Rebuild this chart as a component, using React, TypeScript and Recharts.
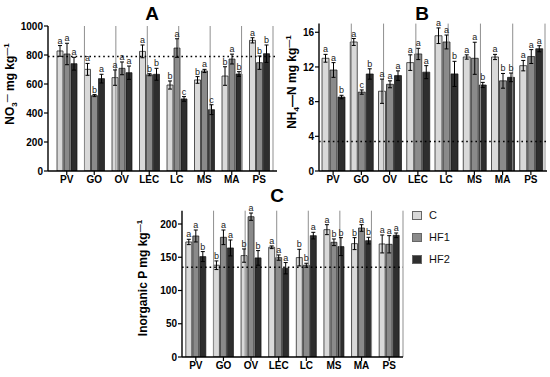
import { Bar, BarChart, ErrorBar, LabelList, ReferenceLine, XAxis, YAxis } from "recharts";

const categories = ["PV", "GO", "OV", "LEC", "LC", "MS", "MA", "PS"];
const treatments = ["C", "HF1", "HF2"];
const fills = ["#d9d9d9", "#8a8a8a", "#2e2e2e"];

// A: NO3- (mg/kg)
const no3C = [828, 701, 644, 825, 593, 628, 655, 901];
const no3Hf1 = [807, 520, 708, 664, 848, 690, 772, 747];
const no3Hf2 = [740, 637, 678, 667, 497, 423, 669, 809];
const no3CErr = [37, 41, 53, 44, 28, 23, 64, 18];
const no3Hf1Err = [74, 7, 44, 7, 64, 11, 34, 46];
const no3Hf2Err = [44, 30, 46, 41, 16, 34, 16, 60];
const no3CSig = ["a", "a", "a", "a", "b", "b", "b", "a"];
const no3Hf1Sig = ["a", "b", "a", "b", "a", "a", "a", "b"];
const no3Hf2Sig = ["a", "a", "a", "b", "c", "c", "b", "b"];
const no3Ticks = [0, 200, 400, 600, 800, 1000];
const no3Ref = 790;

// B: NH4-N (mg/kg)
const nh4C = [13.0, 14.88, 9.2, 12.5, 15.6, 13.15, 13.15, 12.15];
const nh4Hf1 = [11.65, 9.1, 10.0, 13.5, 14.88, 13.0, 10.4, 13.2];
const nh4Hf2 = [8.53, 11.19, 11.0, 11.4, 11.2, 9.92, 10.8, 14.1];
const nh4CErr = [0.45, 0.4, 1.4, 0.9, 0.9, 0.25, 0.3, 0.6];
const nh4Hf1Err = [0.85, 0.25, 0.4, 0.65, 0.8, 1.85, 0.85, 0.8];
const nh4Hf2Err = [0.2, 0.6, 0.55, 0.75, 1.45, 0.3, 0.5, 0.35];
const nh4CSig = ["a", "a", "a", "a", "a", "a", "a", "a"];
const nh4Hf1Sig = ["a", "c", "a", "a", "a", "a", "b", "a"];
const nh4Hf2Sig = ["b", "b", "a", "a", "b", "b", "b", "a"];
const nh4Ticks = [0, 4, 8, 12, 16];
const nh4Ref = 3.4;

// C: inorganic P (mg/kg)
const pC = [173, 138, 152.5, 165, 149.5, 191.5, 170.5, 170];
const pHf1 = [182, 180, 211, 149.5, 138, 172.5, 194, 169.5];
const pHf2 = [151, 164, 149, 133.5, 182.5, 166, 175, 183];
const pCErr = [4, 6.5, 10, 2, 12.5, 7.5, 9, 13.5];
const pHf1Err = [9, 11, 5.5, 4, 3, 5, 5, 13];
const pHf2Err = [7.5, 12, 11, 8.5, 5, 13.5, 5, 3.5];
const pCSig = ["a", "b", "b", "a", "b", "a", "b", "a"];
const pHf1Sig = ["a", "a", "a", "a", "b", "b", "a", "a"];
const pHf2Sig = ["b", "a", "b", "a", "a", "b", "b", "a"];
const pTicks = [0, 50, 100, 150, 200];
const pRef = 135;

const FONT = "'Liberation Sans', Arial, sans-serif";
const keys = ["c", "hf1", "hf2"];

function buildRows(vals: number[][], errs: number[][], sigs: string[][]) {
  return categories.map((name, i) => {
    const row: any = { name };
    keys.forEach((k, j) => {
      row[k] = vals[j][i];
      row[k + "Err"] = errs[j][i];
      row[k + "Sig"] = sigs[j][i];
    });
    return row;
  });
}

const letter = (vals: number[], errs: number[]) => (p: any) => {
  const vb = p.viewBox ?? p;
  const x = vb.x ?? p.x;
  const y = vb.y ?? p.y;
  const w = vb.width ?? p.width;
  const h = Math.abs(vb.height ?? p.height);
  const i = p.index;
  const top = y - (errs[i] * h) / vals[i];
  return (
    <text x={x + w / 2} y={top - 2} textAnchor="middle" fontSize={9} fill="#222" fontFamily={FONT}>
      {p.value}
    </text>
  );
};

function Panel(props: {
  vals: number[][];
  errs: number[][];
  sigs: string[][];
  domain: [number, number];
  ticks: number[];
  refValue: number;
  width: number;
  height: number;
  margin: { top: number; right: number; bottom: number; left: number };
  yWidth: number;
  xHeight: number;
  pad: { left: number; right: number };
  gap: number;
}) {
  const rows = buildRows(props.vals, props.errs, props.sigs);
  const dividers = categories.slice(1).map((_, i) => i + 1);
  return (
    <BarChart
      width={props.width}
      height={props.height}
      data={rows}
      margin={props.margin}
      barCategoryGap={props.gap}
      barGap={1}
    >
      <XAxis
        dataKey="name"
        padding={props.pad}
        height={props.xHeight}
        tickSize={4}
        tickMargin={1}
        interval={0}
        tick={{ fontSize: 10, fontWeight: 700, fill: "#000", fontFamily: FONT }}
        axisLine={{ stroke: "#000", strokeWidth: 1.4 }}
        tickLine={{ stroke: "#000", strokeWidth: 1.2 }}
      />
      <XAxis xAxisId="band" type="number" domain={[0, categories.length]} padding={props.pad} hide allowDataOverflow />
      <YAxis
        width={props.yWidth}
        domain={props.domain}
        ticks={props.ticks}
        interval={0}
        tickSize={4}
        tickMargin={1}
        allowDataOverflow
        tick={{ fontSize: 10, fontWeight: 700, fill: "#000", fontFamily: FONT }}
        axisLine={{ stroke: "#000", strokeWidth: 1.4 }}
        tickLine={{ stroke: "#000", strokeWidth: 1.2 }}
      />
      {dividers.map((d) => (
        <ReferenceLine key={d} x={d} xAxisId="band" stroke="#8f8f8f" strokeWidth={1} />
      ))}
      {keys.map((k, j) => (
        <Bar key={k} dataKey={k} name={treatments[j]} fill={fills[j]} stroke="#111" strokeWidth={0.7} isAnimationActive={false}>
          <ErrorBar dataKey={k + "Err"} direction="y" width={2} stroke="#000" strokeWidth={1} />
          <LabelList dataKey={k + "Sig"} content={letter(props.vals[j], props.errs[j])} />
        </Bar>
      ))}
      <ReferenceLine y={props.refValue} stroke="#000" strokeWidth={1.6} strokeDasharray="1.6 3" />
    </BarChart>
  );
}

const yLabelStyle = (x: number, y: number): React.CSSProperties => ({
  position: "absolute",
  left: x,
  top: y,
  transform: "translate(-50%, -50%) rotate(-90deg)",
  whiteSpace: "nowrap",
  fontSize: 12,
  fontWeight: 700,
  fontFamily: FONT,
  lineHeight: 1,
});
const sub: React.CSSProperties = { fontSize: 8, lineHeight: 0, verticalAlign: "-3px" };
const sup: React.CSSProperties = { fontSize: 8, lineHeight: 0, verticalAlign: "5px" };

const titleStyle = (x: number, y: number): React.CSSProperties => ({
  position: "absolute",
  left: x,
  top: y,
  transform: "translate(-50%, -50%)",
  fontSize: 19,
  fontWeight: 700,
  fontFamily: FONT,
  lineHeight: 1,
});

export default function App() {
  return (
    <div style={{ position: "absolute", left: 0, top: 0, width: 550, height: 377, background: "#fff", fontFamily: FONT }}>
      <div style={{ position: "absolute", left: 0, top: 0 }}>
        <Panel
          vals={[no3C, no3Hf1, no3Hf2]}
          errs={[no3CErr, no3Hf1Err, no3Hf2Err]}
          sigs={[no3CSig, no3Hf1Sig, no3Hf2Sig]}
          domain={[0, 1000]}
          ticks={no3Ticks}
          refValue={no3Ref}
          width={280}
          height={190}
          margin={{ top: 26, right: 3, bottom: 5, left: 0 }}
          yWidth={48}
          xHeight={14}
          pad={{ left: 5, right: 4 }}
          gap={4}
        />
      </div>
      <div style={{ position: "absolute", left: 270, top: 0 }}>
        <Panel
          vals={[nh4C, nh4Hf1, nh4Hf2]}
          errs={[nh4CErr, nh4Hf1Err, nh4Hf2Err]}
          sigs={[nh4CSig, nh4Hf1Sig, nh4Hf2Sig]}
          domain={[0, 17]}
          ticks={nh4Ticks}
          refValue={nh4Ref}
          width={280}
          height={190}
          margin={{ top: 23.6, right: 3, bottom: 5, left: 0 }}
          yWidth={49}
          xHeight={14}
          pad={{ left: 0, right: 2 }}
          gap={3}
        />
      </div>
      <div style={{ position: "absolute", left: 130, top: 180 }}>
        <Panel
          vals={[pC, pHf1, pHf2]}
          errs={[pCErr, pHf1Err, pHf2Err]}
          sigs={[pCSig, pHf1Sig, pHf2Sig]}
          domain={[0, 220]}
          ticks={pTicks}
          refValue={pRef}
          width={280}
          height={197}
          margin={{ top: 30.7, right: 7, bottom: 4, left: 0 }}
          yWidth={52}
          xHeight={16}
          pad={{ left: 0, right: 0 }}
          gap={3.8}
        />
      </div>

      <div style={titleStyle(152, 13)}>A</div>
      <div style={titleStyle(422, 13)}>B</div>
      <div style={titleStyle(277, 195)}>C</div>

      <div style={yLabelStyle(10, 84)}>
        NO<span style={sub}>3</span>
        <span style={sup}>—</span> mg kg<span style={sup}>—1</span>
      </div>
      <div style={yLabelStyle(292, 82)}>
        NH<span style={sub}>4</span>—N mg kg<span style={sup}>—1</span>
      </div>
      <div style={yLabelStyle(143, 278)}>
        Inorganic P mg kg<span style={sup}>—1</span>
      </div>

      {treatments.map((t, j) => (
        <div key={t} style={{ position: "absolute", left: 412, top: 210 + j * 22, display: "flex", alignItems: "center" }}>
          <div style={{ width: 10, height: 9, background: fills[j], border: "1px solid #666", boxSizing: "border-box" }} />
          <span style={{ marginLeft: 7, fontSize: 11, lineHeight: "11px", color: "#111" }}>{t}</span>
        </div>
      ))}
    </div>
  );
}
